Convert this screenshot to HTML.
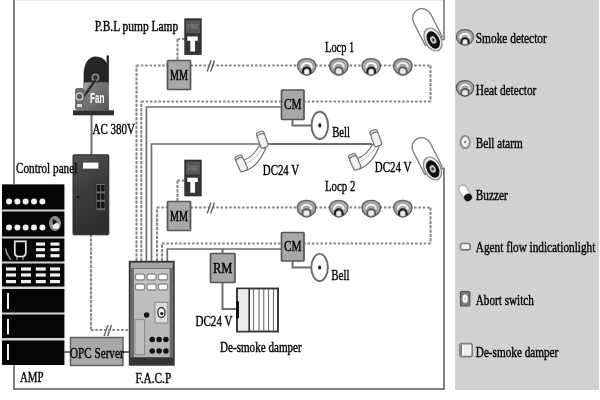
<!DOCTYPE html><html><head><meta charset="utf-8"><style>html,body{margin:0;padding:0;background:#fff;width:600px;height:400px;overflow:hidden}svg{display:block;font-family:"Liberation Serif",serif;will-change:transform}</style></head><body><svg width="600" height="400" viewBox="0 0 600 400" font-family="Liberation Serif, serif">
<defs><radialGradient id="gdet" cx="50%" cy="40%" r="60%"><stop offset="0" stop-color="#bbb"/><stop offset="0.7" stop-color="#808080"/><stop offset="1" stop-color="#555"/></radialGradient><linearGradient id="gfan" x1="0" y1="0" x2="1" y2="1"><stop offset="0" stop-color="#8a8a8a"/><stop offset="1" stop-color="#555"/></linearGradient><linearGradient id="gfacp" x1="0" y1="0" x2="0" y2="1"><stop offset="0" stop-color="#c4c4c4"/><stop offset="1" stop-color="#b4b4b4"/></linearGradient><filter id="soft" x="0" y="0" width="100%" height="100%" filterUnits="userSpaceOnUse"><feGaussianBlur stdDeviation="0"/></filter><linearGradient id="gcp" x1="0" y1="0" x2="0.3" y2="1"><stop offset="0" stop-color="#525252"/><stop offset="0.5" stop-color="#3c3c3c"/><stop offset="1" stop-color="#2e2e2e"/></linearGradient></defs>
<g>
<rect width="600" height="400" fill="#fff"/><rect x="14" y="0" width="430" height="1" fill="#ececec"/>
<rect x="455" y="0" width="144" height="390" fill="#d1d1d1"/>
<polyline points="14,0 14,389 444,389 444,168.5 439,168.5" fill="none" stroke="#808080" stroke-width="2"/>
<polyline points="444,0 444,39.5 439,39.5" fill="none" stroke="#777" stroke-width="1.6"/>
<line x1="136.5" y1="261" x2="136.5" y2="65.5" stroke="#858585" stroke-width="2" stroke-dasharray="3.2 1.2"/>
<line x1="136.5" y1="65.5" x2="167.5" y2="65.5" stroke="#858585" stroke-width="2" stroke-dasharray="2.5 1.8"/>
<line x1="190.5" y1="65.5" x2="430.5" y2="65.5" stroke="#858585" stroke-width="2" stroke-dasharray="2.5 1.8"/>
<line x1="430.5" y1="65.5" x2="430.5" y2="101.5" stroke="#858585" stroke-width="2" stroke-dasharray="3.2 1.2"/>
<line x1="430.5" y1="101.5" x2="304.5" y2="101.5" stroke="#858585" stroke-width="2" stroke-dasharray="2.5 1.8"/>
<line x1="141.3" y1="261" x2="141.3" y2="101.5" stroke="#858585" stroke-width="2" stroke-dasharray="3.2 1.2"/>
<line x1="141.3" y1="101.5" x2="281" y2="101.5" stroke="#858585" stroke-width="2" stroke-dasharray="2.5 1.8"/>
<polyline points="146.4,261 146.4,107 281,107" fill="none" stroke="#6e6e6e" stroke-width="1.7"/>
<polyline points="151.5,261 151.5,144 268,144" fill="none" stroke="#6e6e6e" stroke-width="1.7"/>
<polyline points="268,144 372,144" fill="none" stroke="#6e6e6e" stroke-width="2"/>
<line x1="157" y1="261" x2="157" y2="207.5" stroke="#858585" stroke-width="2" stroke-dasharray="3.2 1.2"/>
<line x1="157" y1="207.5" x2="167" y2="207.5" stroke="#858585" stroke-width="2" stroke-dasharray="2.5 1.8"/>
<line x1="190.5" y1="207.5" x2="430.5" y2="207.5" stroke="#858585" stroke-width="2" stroke-dasharray="2.5 1.8"/>
<line x1="430.5" y1="207.5" x2="430.5" y2="243.5" stroke="#858585" stroke-width="2" stroke-dasharray="3.2 1.2"/>
<line x1="430.5" y1="243.5" x2="304.5" y2="243.5" stroke="#858585" stroke-width="2" stroke-dasharray="2.5 1.8"/>
<line x1="162" y1="261" x2="162" y2="243.5" stroke="#858585" stroke-width="2" stroke-dasharray="3.2 1.2"/>
<line x1="162" y1="243.5" x2="281" y2="243.5" stroke="#858585" stroke-width="2" stroke-dasharray="2.5 1.8"/>
<polyline points="167.3,261 167.3,249 281,249" fill="none" stroke="#6e6e6e" stroke-width="1.7"/>
<path d="M207.2,71.5 L211,60.5 M210.7,71.5 L214.5,60.5" stroke="#606060" stroke-width="1.4" fill="none"/>
<path d="M207.2,213.5 L211,202.5 M210.7,213.5 L214.5,202.5" stroke="#606060" stroke-width="1.4" fill="none"/>
<path d="M104.2,336 L108,325 M107.7,336 L111.5,325" stroke="#606060" stroke-width="1.4" fill="none"/>
<line x1="184.5" y1="39" x2="177.5" y2="39" stroke="#858585" stroke-width="2" stroke-dasharray="2.5 1.8"/>
<line x1="177.5" y1="39" x2="177.5" y2="60.5" stroke="#858585" stroke-width="2" stroke-dasharray="3.2 1.2"/>
<line x1="184.5" y1="180.5" x2="177.5" y2="180.5" stroke="#858585" stroke-width="2" stroke-dasharray="2.5 1.8"/>
<line x1="177.5" y1="180.5" x2="177.5" y2="201" stroke="#858585" stroke-width="2" stroke-dasharray="3.2 1.2"/>
<polyline points="292.5,119.5 292.5,125.5 311,125.5" fill="none" stroke="#6e6e6e" stroke-width="2"/>
<polyline points="292.5,261 292.5,267.5 311,267.5" fill="none" stroke="#6e6e6e" stroke-width="2"/>
<polyline points="222.5,249 222.5,253.5" fill="none" stroke="#6e6e6e" stroke-width="2"/>
<polyline points="222.5,282.5 222.5,309 236,309" fill="none" stroke="#6e6e6e" stroke-width="2"/>
<polyline points="91.5,115 91.5,155" fill="none" stroke="#6e6e6e" stroke-width="2"/>
<line x1="91" y1="234" x2="91" y2="330" stroke="#858585" stroke-width="2" stroke-dasharray="3.2 1.2"/>
<line x1="91" y1="330" x2="129" y2="330" stroke="#858585" stroke-width="2" stroke-dasharray="2.5 1.8"/>
<polyline points="64,352 70,352" fill="none" stroke="#6e6e6e" stroke-width="2"/>
<polyline points="123,352 129,352" fill="none" stroke="#6e6e6e" stroke-width="2"/>
<rect x="167.5" y="60.5" width="23.0" height="29.0" rx="0.8" fill="#a8a8a8" stroke="#555" stroke-width="1.7"/>
<text x="179.0" y="79.6" font-size="14" fill="#000" textLength="18.0" lengthAdjust="spacingAndGlyphs" text-anchor="middle" stroke="#000" stroke-width="0.4">MM</text>
<rect x="167.5" y="201.5" width="23.0" height="29.0" rx="0.8" fill="#a8a8a8" stroke="#555" stroke-width="1.7"/>
<text x="179.0" y="220.6" font-size="14" fill="#000" textLength="18.0" lengthAdjust="spacingAndGlyphs" text-anchor="middle" stroke="#000" stroke-width="0.4">MM</text>
<rect x="281.5" y="90" width="22.5" height="29.5" rx="0.8" fill="#a8a8a8" stroke="#555" stroke-width="1.7"/>
<text x="292.75" y="109.35" font-size="14" fill="#000" textLength="17.5" lengthAdjust="spacingAndGlyphs" text-anchor="middle" stroke="#000" stroke-width="0.4">CM</text>
<rect x="281.5" y="232.5" width="22.5" height="28.5" rx="0.8" fill="#a8a8a8" stroke="#555" stroke-width="1.7"/>
<text x="292.75" y="251.35" font-size="14" fill="#000" textLength="17.5" lengthAdjust="spacingAndGlyphs" text-anchor="middle" stroke="#000" stroke-width="0.4">CM</text>
<rect x="210.5" y="253.5" width="24.5" height="29.0" rx="0.8" fill="#a8a8a8" stroke="#555" stroke-width="1.7"/>
<text x="222.75" y="272.6" font-size="14" fill="#000" textLength="19.5" lengthAdjust="spacingAndGlyphs" text-anchor="middle" stroke="#000" stroke-width="0.4">RM</text>
<g transform="translate(306.7,66.9) scale(1.0)"><path d="M-9.2,-0.8 C-9.2,-5.8 -5,-8.3 0,-8.3 C5,-8.3 9.2,-5.8 9.2,-0.8 C9.2,4 4.5,7.6 0,8.4 C-4.5,7.6 -9.2,4 -9.2,-0.8 Z" fill="#a8a8a8" stroke="#606060" stroke-width="1.3"/><path d="M-5,0.8 A5,4.8 0 0 1 5,0.8" fill="none" stroke="#fff" stroke-width="2"/><path d="M-3.8,6.6 L-3.8,4.2 A3.8,3.6 0 0 1 3.8,4.2 L3.8,6.6" fill="none" stroke="#1a1a1a" stroke-width="1.9"/><circle cx="0" cy="5" r="2.3" fill="#f2f2f2"/></g>
<g transform="translate(338.8,66.9) scale(1.0)"><path d="M-9.2,-0.8 C-9.2,-5.8 -5,-8.3 0,-8.3 C5,-8.3 9.2,-5.8 9.2,-0.8 C9.2,4 4.5,7.6 0,8.4 C-4.5,7.6 -9.2,4 -9.2,-0.8 Z" fill="#a6a6a6" stroke="#5c5c5c" stroke-width="1.4"/><path d="M-5,0.6 A5,4.6 0 0 1 5,0.6" fill="none" stroke="#fafafa" stroke-width="1.7"/><path d="M-4,6.2 L-4,4 A4,3.6 0 0 1 4,4 L4,6.2" fill="none" stroke="#5a5a5a" stroke-width="1.6"/><ellipse cx="0" cy="4.4" rx="2.8" ry="2.6" fill="#e8e8e8"/></g>
<g transform="translate(371.2,66.9) scale(1.0)"><path d="M-9.2,-0.8 C-9.2,-5.8 -5,-8.3 0,-8.3 C5,-8.3 9.2,-5.8 9.2,-0.8 C9.2,4 4.5,7.6 0,8.4 C-4.5,7.6 -9.2,4 -9.2,-0.8 Z" fill="#a8a8a8" stroke="#606060" stroke-width="1.3"/><path d="M-5,0.8 A5,4.8 0 0 1 5,0.8" fill="none" stroke="#fff" stroke-width="2"/><path d="M-3.8,6.6 L-3.8,4.2 A3.8,3.6 0 0 1 3.8,4.2 L3.8,6.6" fill="none" stroke="#1a1a1a" stroke-width="1.9"/><circle cx="0" cy="5" r="2.3" fill="#f2f2f2"/></g>
<g transform="translate(402.8,66.9) scale(1.0)"><path d="M-9.2,-0.8 C-9.2,-5.8 -5,-8.3 0,-8.3 C5,-8.3 9.2,-5.8 9.2,-0.8 C9.2,4 4.5,7.6 0,8.4 C-4.5,7.6 -9.2,4 -9.2,-0.8 Z" fill="#a6a6a6" stroke="#5c5c5c" stroke-width="1.4"/><path d="M-5,0.6 A5,4.6 0 0 1 5,0.6" fill="none" stroke="#fafafa" stroke-width="1.7"/><path d="M-4,6.2 L-4,4 A4,3.6 0 0 1 4,4 L4,6.2" fill="none" stroke="#5a5a5a" stroke-width="1.6"/><ellipse cx="0" cy="4.4" rx="2.8" ry="2.6" fill="#e8e8e8"/></g>
<g transform="translate(306.5,208.7) scale(1.0)"><path d="M-9.2,-0.8 C-9.2,-5.8 -5,-8.3 0,-8.3 C5,-8.3 9.2,-5.8 9.2,-0.8 C9.2,4 4.5,7.6 0,8.4 C-4.5,7.6 -9.2,4 -9.2,-0.8 Z" fill="#a6a6a6" stroke="#5c5c5c" stroke-width="1.4"/><path d="M-5,0.6 A5,4.6 0 0 1 5,0.6" fill="none" stroke="#fafafa" stroke-width="1.7"/><path d="M-4,6.2 L-4,4 A4,3.6 0 0 1 4,4 L4,6.2" fill="none" stroke="#5a5a5a" stroke-width="1.6"/><ellipse cx="0" cy="4.4" rx="2.8" ry="2.6" fill="#e8e8e8"/></g>
<g transform="translate(338.8,208.7) scale(1.0)"><path d="M-9.2,-0.8 C-9.2,-5.8 -5,-8.3 0,-8.3 C5,-8.3 9.2,-5.8 9.2,-0.8 C9.2,4 4.5,7.6 0,8.4 C-4.5,7.6 -9.2,4 -9.2,-0.8 Z" fill="#a8a8a8" stroke="#606060" stroke-width="1.3"/><path d="M-5,0.8 A5,4.8 0 0 1 5,0.8" fill="none" stroke="#fff" stroke-width="2"/><path d="M-3.8,6.6 L-3.8,4.2 A3.8,3.6 0 0 1 3.8,4.2 L3.8,6.6" fill="none" stroke="#1a1a1a" stroke-width="1.9"/><circle cx="0" cy="5" r="2.3" fill="#f2f2f2"/></g>
<g transform="translate(371.2,208.7) scale(1.0)"><path d="M-9.2,-0.8 C-9.2,-5.8 -5,-8.3 0,-8.3 C5,-8.3 9.2,-5.8 9.2,-0.8 C9.2,4 4.5,7.6 0,8.4 C-4.5,7.6 -9.2,4 -9.2,-0.8 Z" fill="#a6a6a6" stroke="#5c5c5c" stroke-width="1.4"/><path d="M-5,0.6 A5,4.6 0 0 1 5,0.6" fill="none" stroke="#fafafa" stroke-width="1.7"/><path d="M-4,6.2 L-4,4 A4,3.6 0 0 1 4,4 L4,6.2" fill="none" stroke="#5a5a5a" stroke-width="1.6"/><ellipse cx="0" cy="4.4" rx="2.8" ry="2.6" fill="#e8e8e8"/></g>
<g transform="translate(402.8,208.7) scale(1.0)"><path d="M-9.2,-0.8 C-9.2,-5.8 -5,-8.3 0,-8.3 C5,-8.3 9.2,-5.8 9.2,-0.8 C9.2,4 4.5,7.6 0,8.4 C-4.5,7.6 -9.2,4 -9.2,-0.8 Z" fill="#a8a8a8" stroke="#606060" stroke-width="1.3"/><path d="M-5,0.8 A5,4.8 0 0 1 5,0.8" fill="none" stroke="#fff" stroke-width="2"/><path d="M-3.8,6.6 L-3.8,4.2 A3.8,3.6 0 0 1 3.8,4.2 L3.8,6.6" fill="none" stroke="#1a1a1a" stroke-width="1.9"/><circle cx="0" cy="5" r="2.3" fill="#f2f2f2"/></g>
<g transform="translate(184.75,18.75)"><rect x="0" y="0" width="16.5" height="36" fill="#343434" stroke="#222" stroke-width="0.6"/><rect x="1.2" y="1.5" width="14.1" height="13" fill="#575757"/><text x="8.25" y="10.6" font-size="6.5" fill="#8c8c8c" text-anchor="middle" font-style="italic" font-family="Liberation Sans, sans-serif" textLength="11" lengthAdjust="spacingAndGlyphs">FIRE</text><path d="M2.5,17.7 H13 V22 H10.3 V32.8 H5.6 V22 H2.5 Z" fill="#fff"/></g>
<g transform="translate(184.75,160)"><rect x="0" y="0" width="16.5" height="36" fill="#343434" stroke="#222" stroke-width="0.6"/><rect x="1.2" y="1.5" width="14.1" height="13" fill="#575757"/><text x="8.25" y="10.6" font-size="6.5" fill="#8c8c8c" text-anchor="middle" font-style="italic" font-family="Liberation Sans, sans-serif" textLength="11" lengthAdjust="spacingAndGlyphs">FIRE</text><path d="M2.5,17.7 H13 V22 H10.3 V32.8 H5.6 V22 H2.5 Z" fill="#fff"/></g>
<ellipse cx="319.8" cy="125.4" rx="8.3" ry="13.6" fill="#fff" stroke="#6a6a6a" stroke-width="1.9"/>
<ellipse cx="319.8" cy="125.4" rx="1.5" ry="2.1" fill="#111"/>
<ellipse cx="319.6" cy="267.5" rx="8.3" ry="13.6" fill="#fff" stroke="#6a6a6a" stroke-width="1.9"/>
<ellipse cx="319.6" cy="267.5" rx="1.5" ry="2.1" fill="#111"/>
<g transform="translate(0,0)" stroke="#707070" stroke-width="1.15" fill="#fff"><path d="M244,160 Q254,156 259,146 L265.5,148.5 Q259,165 246.5,170.5 Z"/><path d="M246,163.5 Q257,158 263,147" fill="none" stroke="#aaa" stroke-width="0.8"/><rect x="-3.9" y="-8.3" width="7.8" height="16.6" rx="2.4" fill="#f2f2f2" transform="translate(262.3,139.6) rotate(-20)"/><path d="M-3.7,-4.6 Q0,-7.4 3.7,-4.6" fill="none" transform="translate(262.3,139.6) rotate(-20)"/><rect x="-3.9" y="-8.2" width="7.8" height="16.4" rx="2.4" fill="#f2f2f2" transform="translate(241.2,163.3) rotate(-24)"/><path d="M-3.7,-4.6 Q0,-7.4 3.7,-4.6" fill="none" transform="translate(241.2,163.3) rotate(-24)"/></g>
<g transform="translate(113.5,-1.5)" stroke="#707070" stroke-width="1.15" fill="#fff"><path d="M244,160 Q254,156 259,146 L265.5,148.5 Q259,165 246.5,170.5 Z"/><path d="M246,163.5 Q257,158 263,147" fill="none" stroke="#aaa" stroke-width="0.8"/><rect x="-3.9" y="-8.3" width="7.8" height="16.6" rx="2.4" fill="#f2f2f2" transform="translate(262.3,139.6) rotate(-20)"/><path d="M-3.7,-4.6 Q0,-7.4 3.7,-4.6" fill="none" transform="translate(262.3,139.6) rotate(-20)"/><rect x="-3.9" y="-8.2" width="7.8" height="16.4" rx="2.4" fill="#f2f2f2" transform="translate(241.2,163.3) rotate(-24)"/><path d="M-3.7,-4.6 Q0,-7.4 3.7,-4.6" fill="none" transform="translate(241.2,163.3) rotate(-24)"/></g>
<g transform="translate(433,39.5) rotate(-27)"><path d="M-9.5,2 L-9.5,-24 A9.5,9.5 0 0 1 9.5,-24 L9.5,2 Z" fill="#fff" stroke="#7a7a7a" stroke-width="1.3"/><ellipse cx="0" cy="0" rx="8" ry="12.2" fill="#e6e6e6" stroke="#8a8a8a" stroke-width="1.2"/><ellipse cx="0" cy="0.5" rx="5.9" ry="9.3" fill="#0e0e0e"/><ellipse cx="0" cy="0.5" rx="2.9" ry="4" fill="#c4c4c4"/><ellipse cx="0" cy="0.5" rx="1.3" ry="1.7" fill="#444"/></g>
<g transform="translate(432.5,168.5) rotate(-27)"><path d="M-9.5,2 L-9.5,-24 A9.5,9.5 0 0 1 9.5,-24 L9.5,2 Z" fill="#fff" stroke="#7a7a7a" stroke-width="1.3"/><ellipse cx="0" cy="0" rx="8" ry="12.2" fill="#e6e6e6" stroke="#8a8a8a" stroke-width="1.2"/><ellipse cx="0" cy="0.5" rx="5.9" ry="9.3" fill="#0e0e0e"/><ellipse cx="0" cy="0.5" rx="2.9" ry="4" fill="#c4c4c4"/><ellipse cx="0" cy="0.5" rx="1.3" ry="1.7" fill="#444"/></g>
<g><path d="M83.6,110 L83.6,75 C83.6,63 89,56.5 95.5,56.5 C102,56.5 106,60 107.5,65 L108.8,110 Z" fill="#262626"/><rect x="106.6" y="55.3" width="2.3" height="30" rx="1" fill="#262626"/><rect x="83.6" y="82.3" width="25.2" height="28.2" fill="url(#gfan)"/><circle cx="95.4" cy="77.4" r="3.2" fill="#333" stroke="#8a8a8a" stroke-width="1.6"/><path d="M83.6,84 L91,82.3 L83.6,93 Z" fill="#9a9a9a"/><path d="M95.5,80 L83.5,97" stroke="#2e2e2e" stroke-width="2.2"/><rect x="75" y="88" width="9.5" height="22" rx="2.5" fill="#6e6e6e"/><circle cx="79.5" cy="96.5" r="3.3" fill="#5a5a5a" stroke="#d8d8d8" stroke-width="1.2"/><rect x="77" y="104" width="5" height="3" fill="#ddd"/><text x="97.3" y="103.3" font-family="Liberation Sans, sans-serif" font-weight="bold" font-size="14" fill="#fff" text-anchor="middle" textLength="14.6" lengthAdjust="spacingAndGlyphs">Fan</text><rect x="73" y="110.3" width="41" height="5" fill="#2e2e2e"/></g>
<rect x="73" y="154.8" width="35.8" height="80" rx="1" fill="url(#gcp)" stroke="#1e1e1e" stroke-width="0.9"/>
<rect x="83" y="162.6" width="15.4" height="6" fill="#fff"/>
<rect x="96" y="183.6" width="9.4" height="27" fill="#6a6a6a" stroke="#2a2a2a" stroke-width="0.6"/>
<rect x="96.9" y="185.0" width="3.4" height="6.4" fill="#151515"/>
<rect x="101.2" y="185.0" width="3.4" height="6.4" fill="#151515"/>
<rect x="96.9" y="193.4" width="3.4" height="6.4" fill="#151515"/>
<rect x="101.2" y="193.4" width="3.4" height="6.4" fill="#151515"/>
<rect x="96.9" y="201.8" width="3.4" height="6.4" fill="#151515"/>
<rect x="101.2" y="201.8" width="3.4" height="6.4" fill="#151515"/>
<circle cx="78" cy="197" r="1.3" fill="#111"/>
<rect x="2" y="184.4" width="62.4" height="180.6" fill="#d4d4d4"/>
<rect x="2" y="184.4" width="62.4" height="25.099999999999994" fill="#050505"/>
<rect x="2" y="211.5" width="62.4" height="25.0" fill="#050505"/>
<rect x="2" y="238.5" width="62.4" height="23.0" fill="#050505"/>
<rect x="2" y="263.5" width="62.4" height="23.0" fill="#050505"/>
<rect x="2" y="289" width="62.4" height="23.5" fill="#050505"/>
<rect x="2" y="314.5" width="62.4" height="23.5" fill="#050505"/>
<rect x="2" y="340.5" width="62.4" height="24.5" fill="#050505"/>
<circle cx="9" cy="201.6" r="3" fill="#f0f0f0"/>
<circle cx="9" cy="227.6" r="3" fill="#f0f0f0"/>
<circle cx="17.4" cy="201.6" r="3" fill="#f0f0f0"/>
<circle cx="17.4" cy="227.6" r="3" fill="#f0f0f0"/>
<circle cx="25.6" cy="201.6" r="3" fill="#f0f0f0"/>
<circle cx="25.6" cy="227.6" r="3" fill="#f0f0f0"/>
<circle cx="34" cy="201.6" r="3" fill="#f0f0f0"/>
<circle cx="34" cy="227.6" r="3" fill="#f0f0f0"/>
<circle cx="42.4" cy="201.6" r="3" fill="#f0f0f0"/>
<circle cx="42.4" cy="227.6" r="3" fill="#f0f0f0"/>
<ellipse cx="55" cy="223.5" rx="6" ry="7.4" fill="#8e8e8e"/><ellipse cx="56" cy="226" rx="3.4" ry="3" fill="#f0f0f0"/><path d="M52.5,218.5 L57.5,222 L53,225 Z" fill="#111"/>
<path d="M14.8,241.3 H25.8 V252.5 Q25.8,256.5 22,256.5 H18.6 Q14.8,256.5 14.8,252.5 Z" fill="none" stroke="#e8e8e8" stroke-width="1.7"/><path d="M17,257 V260 M23,257 V260" stroke="#bbb" stroke-width="1"/>
<path d="M5.5,248.5 Q6,253 8.5,256 Q9.5,258 11,260" fill="none" stroke="#999" stroke-width="1.5"/>
<rect x="36.0" y="242.5" width="9" height="3.2" fill="#f0f0f0"/>
<rect x="36.0" y="248.1" width="9" height="3.2" fill="#f0f0f0"/>
<rect x="36.0" y="254.1" width="9" height="3.2" fill="#f0f0f0"/>
<rect x="50.5" y="242.5" width="9" height="3.2" fill="#f0f0f0"/>
<rect x="50.5" y="248.1" width="9" height="3.2" fill="#f0f0f0"/>
<rect x="50.5" y="254.1" width="9" height="3.2" fill="#f0f0f0"/>
<rect x="6" y="267.4" width="10" height="3.2" fill="#f0f0f0"/>
<rect x="6" y="273.4" width="10" height="3.2" fill="#f0f0f0"/>
<rect x="6" y="280.0" width="10" height="3.2" fill="#f0f0f0"/>
<rect x="21" y="267.4" width="10" height="3.2" fill="#f0f0f0"/>
<rect x="21" y="273.4" width="10" height="3.2" fill="#f0f0f0"/>
<rect x="21" y="280.0" width="10" height="3.2" fill="#f0f0f0"/>
<rect x="35.8" y="267.4" width="10" height="3.2" fill="#f0f0f0"/>
<rect x="35.8" y="273.4" width="10" height="3.2" fill="#f0f0f0"/>
<rect x="35.8" y="280.0" width="10" height="3.2" fill="#f0f0f0"/>
<rect x="50" y="267.4" width="10" height="3.2" fill="#f0f0f0"/>
<rect x="50" y="273.4" width="10" height="3.2" fill="#f0f0f0"/>
<rect x="50" y="280.0" width="10" height="3.2" fill="#f0f0f0"/>
<rect x="7" y="293" width="2" height="16" fill="#f0f0f0"/>
<rect x="7" y="319" width="2" height="15.399999999999977" fill="#f0f0f0"/>
<rect x="7" y="344" width="2" height="16" fill="#f0f0f0"/>
<polyline points="14,0 14,184.4" fill="none" stroke="#808080" stroke-width="2"/>
<rect x="70.5" y="337.5" width="52.5" height="28" fill="#a8a8a8" stroke="#5a5a5a" stroke-width="1.4"/>
<rect x="129.5" y="261.5" width="44.5" height="103.5" fill="#6c6c6c" stroke="#2e2e2e" stroke-width="1.4"/>
<rect x="131" y="263" width="41.5" height="5" fill="#a4a4a4"/>
<rect x="133.6" y="268.5" width="36.4" height="89" fill="url(#gfacp)" stroke="#555" stroke-width="0.6"/>
<rect x="130.2" y="357.5" width="43.2" height="7" fill="#333"/>
<rect x="135.4" y="274" width="9.2" height="6" rx="2" fill="#fff" stroke="#8a8a8a" stroke-width="1.3"/>
<rect x="135.4" y="284" width="9.2" height="6" rx="2" fill="#fff" stroke="#8a8a8a" stroke-width="1.3"/>
<rect x="147.0" y="274" width="9.2" height="6" rx="2" fill="#fff" stroke="#8a8a8a" stroke-width="1.3"/>
<rect x="147.0" y="284" width="9.2" height="6" rx="2" fill="#fff" stroke="#8a8a8a" stroke-width="1.3"/>
<rect x="158.4" y="274" width="9.2" height="6" rx="2" fill="#fff" stroke="#8a8a8a" stroke-width="1.3"/>
<rect x="158.4" y="284" width="9.2" height="6" rx="2" fill="#fff" stroke="#8a8a8a" stroke-width="1.3"/>
<rect x="155" y="302.4" width="12.8" height="20.6" fill="#dcdcdc" stroke="#888" stroke-width="1"/>
<ellipse cx="161.4" cy="312.5" rx="3.6" ry="5" fill="#f6f6f6" stroke="#333" stroke-width="1.3"/><circle cx="161.8" cy="313.5" r="1.6" fill="#111"/>
<circle cx="146.6" cy="315" r="2.7" fill="#111"/>
<rect x="135" y="319.6" width="9.6" height="35" fill="#c0c0c0" stroke="#888" stroke-width="1"/>
<circle cx="152.2" cy="339.6" r="2.75" fill="#111"/>
<circle cx="152.2" cy="351" r="2.75" fill="#111"/>
<circle cx="159.1" cy="339.6" r="2.75" fill="#111"/>
<circle cx="159.1" cy="351" r="2.75" fill="#111"/>
<circle cx="165.9" cy="339.6" r="2.75" fill="#111"/>
<circle cx="165.9" cy="351" r="2.75" fill="#111"/>
<rect x="237" y="288.5" width="41" height="43" fill="#fff" stroke="#333" stroke-width="1.9"/>
<rect x="238" y="289.5" width="11" height="41" fill="#ececec"/>
<line x1="253.5" y1="289" x2="253.5" y2="331" stroke="#777" stroke-width="1.2"/>
<line x1="259" y1="289" x2="259" y2="331" stroke="#777" stroke-width="1.2"/>
<line x1="263.75" y1="289" x2="263.75" y2="331" stroke="#777" stroke-width="1.2"/>
<line x1="268.5" y1="289" x2="268.5" y2="331" stroke="#777" stroke-width="1.2"/>
<line x1="273.5" y1="289" x2="273.5" y2="331" stroke="#777" stroke-width="1.2"/>
<line x1="249.2" y1="289" x2="249.2" y2="331" stroke="#333" stroke-width="1.6"/>
<rect x="236" y="301" width="3" height="17.5" rx="1" fill="#111"/>
<text x="94.7" y="30.7" font-size="13.8" fill="#000" textLength="83.5" lengthAdjust="spacingAndGlyphs" stroke="#000" stroke-width="0.4">P.B.L pump Lamp</text>
<text x="92.5" y="133.5" font-size="15" fill="#000" textLength="42.5" lengthAdjust="spacingAndGlyphs" stroke="#000" stroke-width="0.4">AC 380V</text>
<text x="325" y="51.8" font-size="15.2" fill="#000" textLength="29.3" lengthAdjust="spacingAndGlyphs" stroke="#000" stroke-width="0.4">Locp 1</text>
<text x="332.2" y="137" font-size="15.2" fill="#000" textLength="17.8" lengthAdjust="spacingAndGlyphs" stroke="#000" stroke-width="0.4">Bell</text>
<text x="262.8" y="174.7" font-size="15" fill="#000" textLength="36.4" lengthAdjust="spacingAndGlyphs" stroke="#000" stroke-width="0.4">DC24 V</text>
<text x="374.8" y="171.9" font-size="15" fill="#000" textLength="36.7" lengthAdjust="spacingAndGlyphs" stroke="#000" stroke-width="0.4">DC24 V</text>
<text x="325" y="191.3" font-size="15.2" fill="#000" textLength="30.3" lengthAdjust="spacingAndGlyphs" stroke="#000" stroke-width="0.4">Locp 2</text>
<text x="16" y="172.7" font-size="15.2" fill="#000" textLength="61.3" lengthAdjust="spacingAndGlyphs" stroke="#000" stroke-width="0.4">Control panel</text>
<text x="331.25" y="280" font-size="15.2" fill="#000" textLength="18.25" lengthAdjust="spacingAndGlyphs" stroke="#000" stroke-width="0.4">Bell</text>
<text x="195.5" y="325.75" font-size="15" fill="#000" textLength="37" lengthAdjust="spacingAndGlyphs" stroke="#000" stroke-width="0.4">DC24 V</text>
<text x="220" y="352.4" font-size="14.6" fill="#000" textLength="81.7" lengthAdjust="spacingAndGlyphs" stroke="#000" stroke-width="0.4">De-smoke damper</text>
<text x="70" y="357.6" font-size="15.5" fill="#000" textLength="53.6" lengthAdjust="spacingAndGlyphs" stroke="#000" stroke-width="0.4">OPC Server</text>
<text x="20" y="382.2" font-size="15" fill="#000" textLength="23.5" lengthAdjust="spacingAndGlyphs" stroke="#000" stroke-width="0.4">AMP</text>
<text x="135.4" y="382.5" font-size="15.2" fill="#000" textLength="35.8" lengthAdjust="spacingAndGlyphs" stroke="#000" stroke-width="0.4">F.A.C.P</text>
<text x="475.8" y="43.2" font-size="15.2" fill="#000" textLength="71" lengthAdjust="spacingAndGlyphs" stroke="#000" stroke-width="0.4">Smoke detector</text>
<text x="475.8" y="95.4" font-size="15.2" fill="#000" textLength="60.5" lengthAdjust="spacingAndGlyphs" stroke="#000" stroke-width="0.4">Heat detector</text>
<text x="475.8" y="147.6" font-size="15.2" fill="#000" textLength="47" lengthAdjust="spacingAndGlyphs" stroke="#000" stroke-width="0.4">Bell atarm</text>
<text x="475.8" y="200" font-size="15.2" fill="#000" textLength="32" lengthAdjust="spacingAndGlyphs" stroke="#000" stroke-width="0.4">Buzzer</text>
<text x="475.8" y="252.3" font-size="15.2" fill="#000" textLength="119.5" lengthAdjust="spacingAndGlyphs" stroke="#000" stroke-width="0.4">Agent flow indicationlight</text>
<text x="475.8" y="304.6" font-size="15.2" fill="#000" textLength="58" lengthAdjust="spacingAndGlyphs" stroke="#000" stroke-width="0.4">Abort switch</text>
<text x="475.8" y="356.7" font-size="15.2" fill="#000" textLength="82.5" lengthAdjust="spacingAndGlyphs" stroke="#000" stroke-width="0.4">De-smoke damper</text>
<g transform="translate(465,37.5) scale(0.9411764705882353)"><path d="M-9.2,-0.8 C-9.2,-5.8 -5,-8.3 0,-8.3 C5,-8.3 9.2,-5.8 9.2,-0.8 C9.2,4 4.5,7.6 0,8.4 C-4.5,7.6 -9.2,4 -9.2,-0.8 Z" fill="#a8a8a8" stroke="#606060" stroke-width="1.3"/><path d="M-5,0.8 A5,4.8 0 0 1 5,0.8" fill="none" stroke="#fff" stroke-width="2"/><path d="M-3.8,6.6 L-3.8,4.2 A3.8,3.6 0 0 1 3.8,4.2 L3.8,6.6" fill="none" stroke="#1a1a1a" stroke-width="1.9"/><circle cx="0" cy="5" r="2.3" fill="#f2f2f2"/></g>
<g transform="translate(465,88.5) scale(0.9411764705882353)"><path d="M-9.2,-0.8 C-9.2,-5.8 -5,-8.3 0,-8.3 C5,-8.3 9.2,-5.8 9.2,-0.8 C9.2,4 4.5,7.6 0,8.4 C-4.5,7.6 -9.2,4 -9.2,-0.8 Z" fill="#a6a6a6" stroke="#5c5c5c" stroke-width="1.4"/><path d="M-5,0.6 A5,4.6 0 0 1 5,0.6" fill="none" stroke="#fafafa" stroke-width="1.7"/><path d="M-4,6.2 L-4,4 A4,3.6 0 0 1 4,4 L4,6.2" fill="none" stroke="#5a5a5a" stroke-width="1.6"/><ellipse cx="0" cy="4.4" rx="2.8" ry="2.6" fill="#e8e8e8"/></g>
<ellipse cx="465.2" cy="142" rx="4.6" ry="6.2" fill="#ececec" stroke="#8a8a8a" stroke-width="1.8"/><circle cx="465.2" cy="142" r="1.1" fill="#555"/>
<g transform="translate(465.3,193) rotate(-32)"><rect x="-4" y="-8.5" width="8" height="17" rx="3.5" fill="#f8f8f8" stroke="#999" stroke-width="0.9"/><ellipse cx="0" cy="5.2" rx="4" ry="3.6" fill="#151515"/></g>
<rect x="460.4" y="243.5" width="9.8" height="6.4" rx="2.2" fill="#f6f6f6" stroke="#7a7a7a" stroke-width="1.6"/>
<rect x="460.5" y="291.5" width="9.3" height="14.5" rx="1" fill="#7a7a7a" stroke="#505050" stroke-width="1.2"/><ellipse cx="465.1" cy="298.7" rx="2.7" ry="4.2" fill="#f4f4f4"/><circle cx="465.1" cy="298.7" r="0.9" fill="#bbb"/>
<rect x="459.9" y="343.6" width="12.3" height="13" rx="1.8" fill="#ececec" stroke="#808080" stroke-width="1.6"/><line x1="461.3" y1="345" x2="461.3" y2="355" stroke="#666" stroke-width="1.2"/><line x1="462.9" y1="345" x2="462.9" y2="355" stroke="#fff" stroke-width="1.2"/>
</g>
</svg></body></html>
